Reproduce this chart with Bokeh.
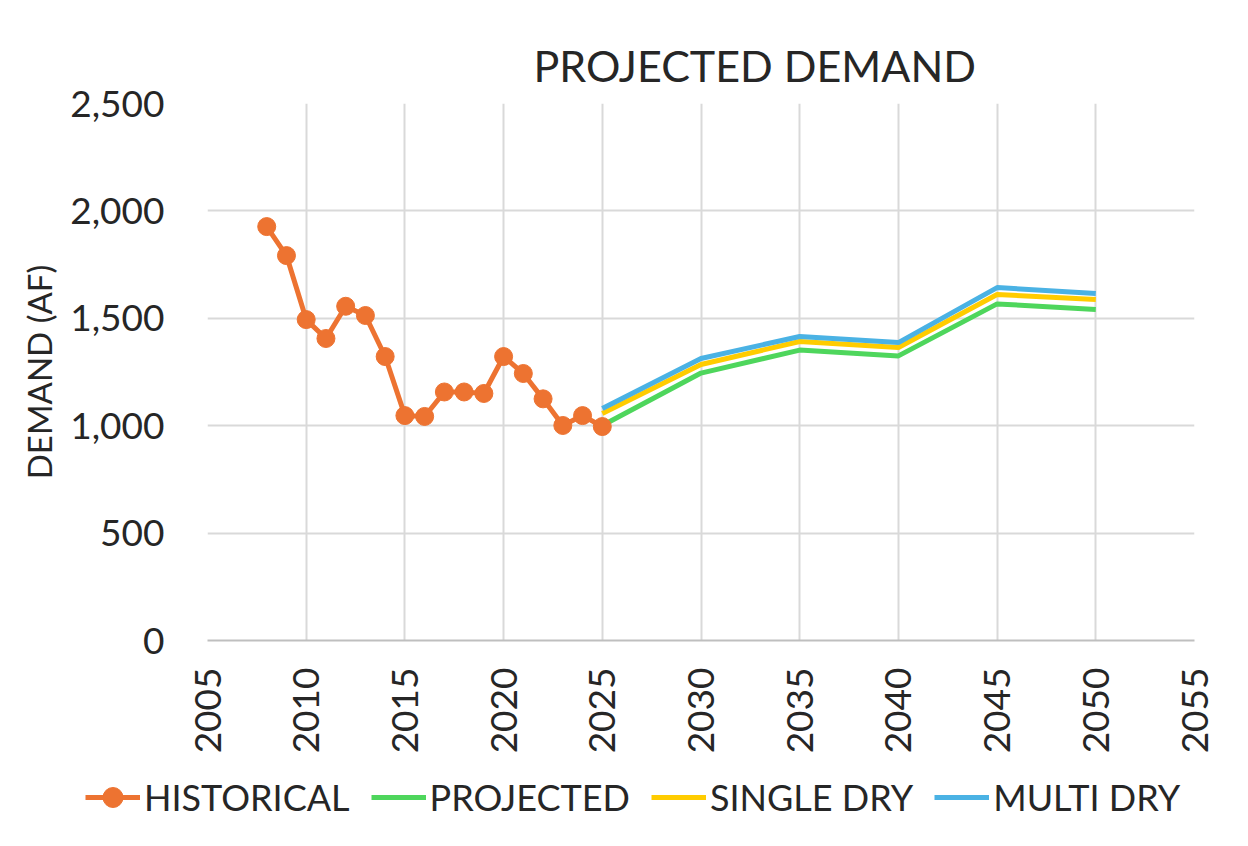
from bokeh.plotting import figure
from bokeh.layouts import column
from bokeh.models import Legend, LegendItem, NumeralTickFormatter, SingleIntervalTicker, Range1d
from bokeh.embed import file_html
from bokeh.resources import INLINE
from math import pi

hist_years = [2008, 2009, 2010, 2011, 2012, 2013, 2014, 2015, 2016, 2017, 2018, 2019, 2020, 2021, 2022, 2023, 2024, 2025]
hist_vals = [1927, 1792, 1494, 1406, 1556, 1513, 1322, 1047, 1043, 1157, 1157, 1150, 1322, 1243, 1125, 1001, 1047, 996]

proj_years = [2025, 2030, 2035, 2040, 2045, 2050]
projected = [1001, 1245, 1352, 1325, 1567, 1541]
single_dry = [1057, 1285, 1392, 1364, 1611, 1588]
multi_dry = [1080, 1313, 1415, 1387, 1643, 1615]

FONT = "Lato"
TXT = "#262626"
C_HIST, C_PROJ, C_SINGLE, C_MULTI = "#ED7331", "#4ED65C", "#FFCC00", "#4AB2E4"

p = figure(width=1232, height=760, output_backend="svg", toolbar_location=None,
           x_range=Range1d(2005, 2055), y_range=Range1d(0, 2500),
           min_border_left=207, min_border_right=38, min_border_top=103, min_border_bottom=120)
p.frame_align = False
p.title.text = "PROJECTED DEMAND"
p.title.text_font = FONT
p.title.text_font_size = "43px"
p.title.text_font_style = "normal"
p.title.text_color = TXT
p.title.align = "left"
p.title.offset = 326
p.title.standoff = 26

p.outline_line_color = None
p.background_fill_color = "white"
p.border_fill_color = "white"

p.xaxis.ticker = SingleIntervalTicker(interval=5)
p.yaxis.ticker = SingleIntervalTicker(interval=500)
p.yaxis.formatter = NumeralTickFormatter(format="0,0")
p.xaxis.major_label_orientation = pi / 2
for ax in (p.xaxis, p.yaxis):
    ax.major_label_text_font = FONT
    ax.major_label_text_font_size = "37px"
    ax.major_label_text_color = TXT
    ax.major_tick_line_color = None
    ax.minor_tick_line_color = None
p.xaxis.axis_line_color = "#bfbfbf"
p.xaxis.axis_line_width = 2
p.yaxis.axis_line_color = None
p.xaxis.major_label_standoff = 21
p.yaxis.major_label_standoff = 37
p.yaxis.axis_label = "DEMAND (AF)"
p.yaxis.axis_label_text_font = FONT
p.yaxis.axis_label_text_font_size = "33px"
p.yaxis.axis_label_text_font_style = "normal"
p.yaxis.axis_label_text_color = TXT
p.yaxis.axis_label_standoff = 8

p.grid.grid_line_color = "#d9d9d9"
p.grid.grid_line_width = 2

p.line(proj_years, projected, line_color=C_PROJ, line_width=5)
p.line(proj_years, single_dry, line_color=C_SINGLE, line_width=5)
p.line(proj_years, multi_dry, line_color=C_MULTI, line_width=5)
p.line(hist_years, hist_vals, line_color=C_HIST, line_width=5)
p.scatter(hist_years, hist_vals, size=18, fill_color=C_HIST, line_color=C_HIST)

# legend strip (its renderers use the same data but lie outside the strip's ranges)
lp = figure(width=1232, height=70, output_backend="svg", toolbar_location=None,
            x_range=Range1d(0, 1), y_range=Range1d(0, 1),
            x_axis_location=None, y_axis_location=None,
            min_border_left=0, min_border_right=0, min_border_top=0, min_border_bottom=0)
lp.frame_align = False
lp.outline_line_color = None
lp.grid.visible = False
lh_l = lp.line(hist_years, hist_vals, line_color=C_HIST, line_width=5)
lh_s = lp.scatter(hist_years, hist_vals, size=18, fill_color=C_HIST, line_color=C_HIST)
lpj = lp.line(proj_years, projected, line_color=C_PROJ, line_width=5)
lsd = lp.line(proj_years, single_dry, line_color=C_SINGLE, line_width=5)
lmd = lp.line(proj_years, multi_dry, line_color=C_MULTI, line_width=5)

legend = Legend(items=[
    LegendItem(label="HISTORICAL", renderers=[lh_l, lh_s]),
    LegendItem(label="PROJECTED", renderers=[lpj]),
    LegendItem(label="SINGLE DRY", renderers=[lsd]),
    LegendItem(label="MULTI DRY", renderers=[lmd]),
], orientation="horizontal", location=(85, 8))
legend.label_text_font = FONT
legend.label_text_font_size = "36px"
legend.label_text_color = TXT
legend.glyph_width = 55
legend.glyph_height = 50
legend.label_standoff = 4
legend.spacing = 21
legend.border_line_color = None
legend.background_fill_alpha = 0
legend.padding = 0
legend.margin = 0
lp.add_layout(legend, "center")

open("out.html", "w").write(file_html(column(p, lp, spacing=0), INLINE))
